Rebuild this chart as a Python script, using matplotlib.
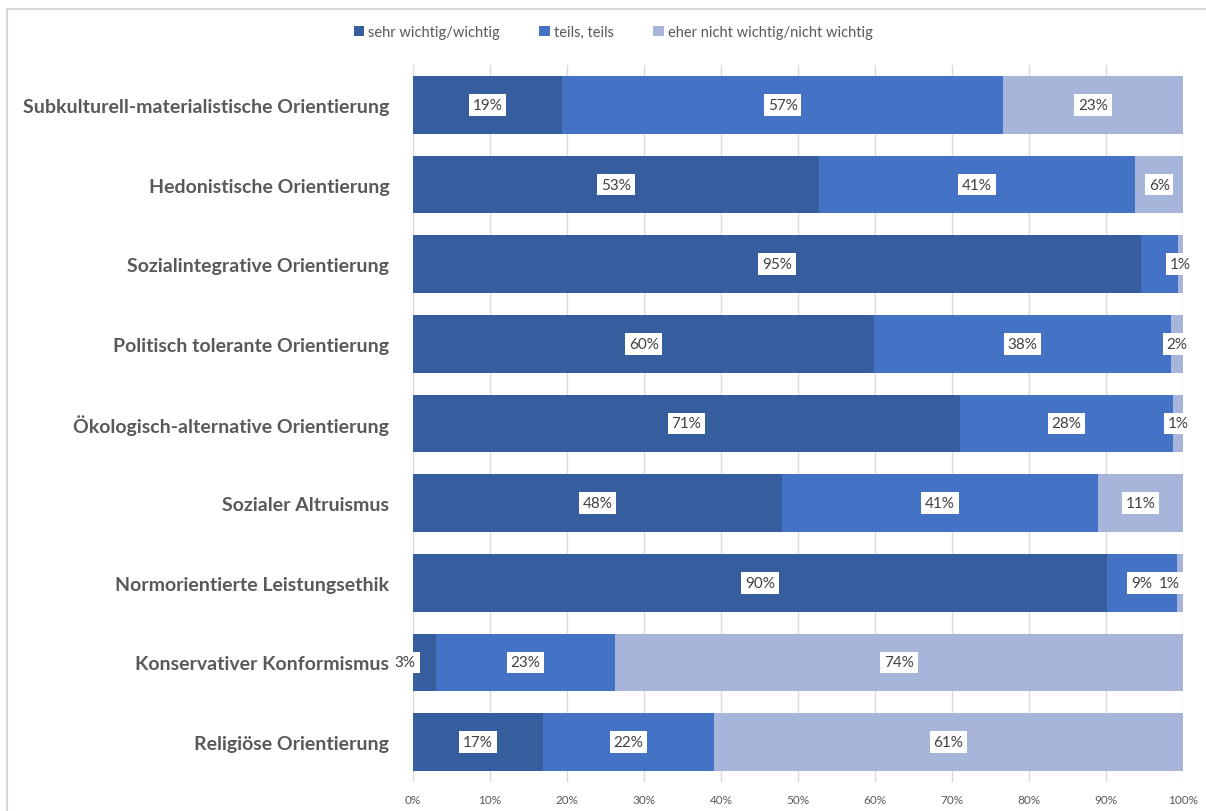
import numpy as np
import matplotlib.pyplot as plt
from matplotlib.patches import Rectangle

plt.rcParams['font.family'] = ['Lato', 'DejaVu Sans']

# Daten (Anteile in %)
kategorien = ["Subkulturell-materialistische Orientierung",
              "Hedonistische Orientierung",
              "Sozialintegrative Orientierung",
              "Politisch tolerante Orientierung",
              "Ökologisch-alternative Orientierung",
              "Sozialer Altruismus",
              "Normorientierte Leistungsethik",
              "Konservativer Konformismus",
              "Religiöse Orientierung"]
wichtig = [19.4, 52.7, 94.5, 59.9, 71.0, 47.9, 90.1, 3.0, 16.9]
teils = [57.2, 41.1, 4.9, 38.5, 27.7, 41.1, 9.1, 23.2, 22.2]
nicht_wichtig = [23.4, 6.2, 0.6, 1.6, 1.3, 11.0, 0.8, 73.8, 60.9]
serien = ["sehr wichtig/wichtig", "teils, teils", "eher nicht wichtig/nicht wichtig"]
labels_wichtig = ["19%", "53%", "95%", "60%", "71%", "48%", "90%", "3%", "17%"]
labels_teils = ["57%", "41%", "", "38%", "28%", "41%", "9%", "23%", "22%"]
labels_nicht = ["23%", "6%", "1%", "2%", "1%", "11%", "1%", "74%", "61%"]

farben = ["#365E9F", "#4472C4", "#A7B5DB"]
grau = "#595959"

fig = plt.figure(figsize=(12.06, 8.12), dpi=100)
ax = fig.add_axes([413/1206, 1-783/812, 770/1206, (783-66)/812])

y = np.arange(len(kategorien))
werte = [wichtig, teils, nicht_wichtig]
alle_labels = [labels_wichtig, labels_teils, labels_nicht]
# kleine Verschiebungen der Beschriftungen (wie in Excel)
nudge = {(6, 2): -1.4, (7, 0): -2.5}

links = np.zeros(len(kategorien))
for i, (w, name, farbe) in enumerate(zip(werte, serien, farben)):
    w = np.array(w)
    ax.barh(y, w, left=links, height=0.72, color=farbe, label=name, zorder=2)
    for j in range(len(kategorien)):
        txt = alle_labels[i][j]
        if txt == "":
            continue
        xc = links[j] + w[j] / 2 + nudge.get((j, i), 0)
        ax.text(xc, y[j], txt, ha='center', va='center', fontsize=11,
                color='#404040', zorder=4,
                bbox=dict(boxstyle='square,pad=0.25', fc='white', ec='none'))
    links += w

ax.set_xlim(0, 100)
ax.set_ylim(len(kategorien) - 0.5, -0.5)
ax.set_yticks(y)
ax.set_yticklabels(kategorien, fontsize=14, fontweight='bold', color=grau)
ax.tick_params(axis='y', length=0, pad=17)
ax.yaxis.set_zorder(5)
ax.set_xticks(np.arange(0, 101, 10))
ax.set_xticklabels([f"{v}%" for v in range(0, 101, 10)], fontsize=8.5, color=grau)
ax.tick_params(axis='x', length=0, pad=9)
ax.grid(axis='x', color='#D9D9D9', linewidth=1, zorder=0)
for s in ax.spines.values():
    s.set_visible(False)

ax.legend(loc='center', bbox_to_anchor=(0.26, 1 + (783 - 33 - 717) / 717), ncol=3,
          frameon=False, fontsize=10.5, handlelength=0.7, handleheight=0.7,
          handletextpad=0.3, columnspacing=2.7, labelcolor=grau,
          bbox_transform=ax.transAxes)

fig.patches.append(Rectangle((7/1206, -0.1), 1.2, 1 - 10/812 + 0.1,
                             transform=fig.transFigure, fill=False,
                             edgecolor='#D9D9D9', linewidth=1.5))

fig.savefig('out.png', dpi=100)
